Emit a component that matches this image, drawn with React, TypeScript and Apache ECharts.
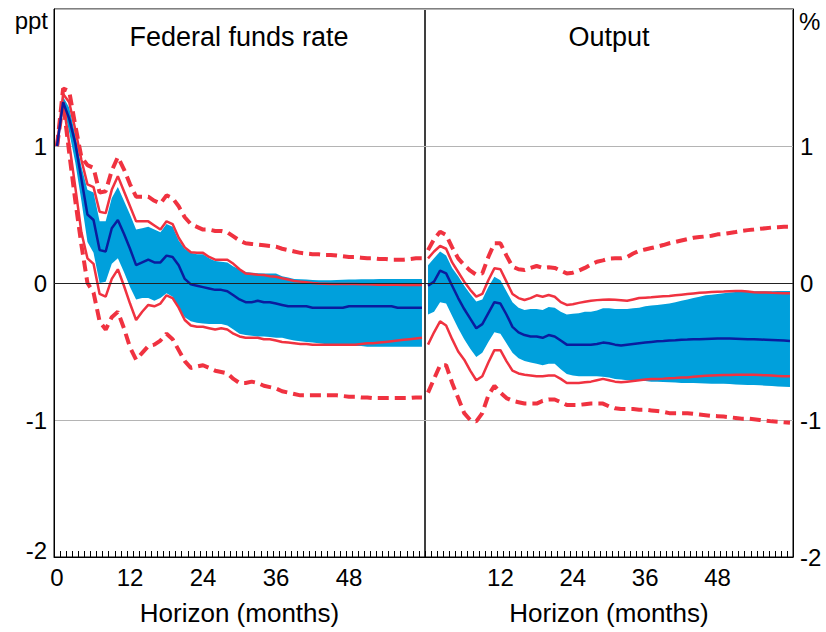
import React, { useEffect, useRef } from "react";
import * as echarts from "echarts";

const horizon = Array.from({ length: 61 }, (_, i) => String(i));

const ffrMedian = [1.00,1.32,1.20,1.02,0.76,0.50,0.46,0.24,0.23,0.40, 0.46,0.36,0.25,0.13,0.15,0.17,0.15,0.15,0.20,0.19, 0.13,0.03,-0.01,-0.02,-0.03,-0.04,-0.05,-0.05,-0.06,-0.09, -0.12,-0.14,-0.14,-0.13,-0.14,-0.14,-0.15,-0.16,-0.17,-0.17, -0.17,-0.17,-0.18,-0.18,-0.18,-0.18,-0.18,-0.18,-0.17,-0.17, -0.17,-0.17,-0.17,-0.17,-0.17,-0.17,-0.18,-0.18,-0.18,-0.18, -0.18];
const ffrBandUpper = [1.00,1.36,1.28,1.08,0.85,0.68,0.66,0.45,0.45,0.62, 0.70,0.60,0.50,0.39,0.40,0.41,0.39,0.37,0.43,0.41, 0.31,0.25,0.22,0.21,0.21,0.18,0.16,0.155,0.15,0.12, 0.10,0.08,0.075,0.072,0.07,0.07,0.07,0.05,0.04,0.03, 0.027,0.025,0.022,0.02,0.02,0.02,0.022,0.024,0.025,0.026, 0.027,0.028,0.028,0.029,0.03,0.03,0.03,0.03,0.03,0.03, 0.03];
const ffrBandLower = [1.00,1.30,1.10,0.88,0.60,0.30,0.22,0.00,0.01,0.14, 0.18,0.08,-0.03,-0.12,-0.11,-0.11,-0.13,-0.11,-0.075,-0.10, -0.18,-0.25,-0.28,-0.29,-0.295,-0.30,-0.30,-0.30,-0.31,-0.34, -0.37,-0.38,-0.385,-0.39,-0.39,-0.395,-0.40,-0.40,-0.41,-0.42, -0.425,-0.43,-0.435,-0.44,-0.445,-0.45,-0.45,-0.455,-0.455,-0.46, -0.46,-0.465,-0.465,-0.465,-0.465,-0.465,-0.465,-0.465,-0.465,-0.465, -0.465];
const ffrRedUpper = [1.00,1.38,1.32,1.12,0.90,0.72,0.70,0.52,0.51,0.68, 0.78,0.67,0.56,0.45,0.45,0.45,0.42,0.39,0.45,0.43, 0.33,0.26,0.225,0.22,0.22,0.19,0.17,0.17,0.17,0.14, 0.10,0.07,0.065,0.06,0.058,0.05,0.046,0.035,0.025,0.015, 0.01,0.005,0.0,-0.003,-0.005,-0.007,-0.007,-0.008,-0.008,-0.008, -0.01,-0.01,-0.011,-0.012,-0.012,-0.013,-0.013,-0.014,-0.014,-0.015, -0.015];
const ffrRedLower = [1.00,1.32,1.02,0.70,0.37,0.18,0.14,-0.08,-0.10,0.03, 0.10,-0.02,-0.15,-0.27,-0.21,-0.16,-0.17,-0.15,-0.09,-0.11, -0.18,-0.27,-0.31,-0.32,-0.32,-0.33,-0.34,-0.33,-0.34,-0.37, -0.39,-0.40,-0.40,-0.40,-0.41,-0.41,-0.42,-0.43,-0.435,-0.44, -0.445,-0.445,-0.45,-0.45,-0.45,-0.45,-0.45,-0.45,-0.45,-0.45, -0.445,-0.44,-0.44,-0.435,-0.43,-0.425,-0.42,-0.415,-0.41,-0.405, -0.40];
const ffrDashUpper = [1.00,1.42,1.40,1.15,0.92,0.86,0.84,0.66,0.67,0.82, 0.92,0.83,0.72,0.63,0.63,0.63,0.60,0.58,0.64,0.62, 0.56,0.48,0.43,0.41,0.39,0.39,0.38,0.38,0.37,0.34, 0.31,0.29,0.285,0.28,0.275,0.27,0.265,0.25,0.24,0.23, 0.22,0.215,0.21,0.21,0.205,0.205,0.20,0.195,0.19,0.19, 0.185,0.18,0.18,0.175,0.175,0.17,0.17,0.17,0.175,0.18, 0.18];
const ffrDashLower = [1.00,1.32,0.95,0.60,0.28,0.00,-0.07,-0.28,-0.34,-0.25, -0.21,-0.33,-0.47,-0.56,-0.51,-0.46,-0.45,-0.42,-0.37,-0.41, -0.49,-0.57,-0.62,-0.61,-0.60,-0.62,-0.64,-0.65,-0.66,-0.70, -0.73,-0.73,-0.72,-0.73,-0.75,-0.76,-0.77,-0.79,-0.80,-0.81, -0.82,-0.82,-0.82,-0.82,-0.82,-0.82,-0.82,-0.825,-0.83,-0.83, -0.835,-0.835,-0.84,-0.84,-0.84,-0.84,-0.84,-0.84,-0.84,-0.835, -0.835];

const outMedian = [-0.02,0.01,0.09,0.07,-0.02,-0.11,-0.19,-0.26,-0.33,-0.30, -0.22,-0.14,-0.15,-0.23,-0.32,-0.36,-0.38,-0.39,-0.39,-0.40, -0.38,-0.39,-0.42,-0.45,-0.45,-0.45,-0.45,-0.45,-0.445,-0.435, -0.44,-0.45,-0.457,-0.45,-0.445,-0.44,-0.435,-0.43,-0.425,-0.423, -0.42,-0.418,-0.415,-0.413,-0.41,-0.41,-0.408,-0.407,-0.406,-0.406, -0.406,-0.407,-0.408,-0.41,-0.41,-0.412,-0.414,-0.416,-0.418,-0.42, -0.423];
const outBandUpper = [0.13,0.18,0.23,0.20,0.11,0.05,-0.02,-0.08,-0.135,-0.12, -0.03,0.045,0.02,-0.06,-0.14,-0.18,-0.197,-0.19,-0.19,-0.197, -0.175,-0.18,-0.21,-0.23,-0.225,-0.22,-0.21,-0.21,-0.20,-0.185, -0.185,-0.19,-0.19,-0.19,-0.185,-0.18,-0.17,-0.165,-0.16,-0.155, -0.15,-0.14,-0.13,-0.12,-0.11,-0.10,-0.09,-0.085,-0.08,-0.075, -0.07,-0.065,-0.063,-0.062,-0.06,-0.06,-0.06,-0.06,-0.058,-0.058, -0.058];
const outBandLower = [-0.23,-0.21,-0.14,-0.15,-0.24,-0.33,-0.41,-0.48,-0.54,-0.51, -0.43,-0.36,-0.37,-0.44,-0.51,-0.55,-0.57,-0.58,-0.59,-0.60, -0.59,-0.59,-0.63,-0.665,-0.675,-0.68,-0.68,-0.68,-0.68,-0.685, -0.69,-0.70,-0.705,-0.71,-0.71,-0.715,-0.715,-0.72,-0.72,-0.722, -0.725,-0.727,-0.73,-0.73,-0.73,-0.732,-0.733,-0.735,-0.735,-0.735, -0.738,-0.74,-0.742,-0.744,-0.745,-0.747,-0.75,-0.752,-0.755,-0.758, -0.76];
const outRedUpper = [0.18,0.23,0.27,0.25,0.15,0.08,0.01,-0.05,-0.10,-0.08, 0.02,0.107,0.10,0.01,-0.08,-0.11,-0.124,-0.11,-0.09,-0.10, -0.088,-0.10,-0.14,-0.16,-0.155,-0.145,-0.137,-0.13,-0.125,-0.122, -0.12,-0.123,-0.126,-0.13,-0.12,-0.11,-0.107,-0.104,-0.10,-0.097, -0.095,-0.09,-0.085,-0.08,-0.076,-0.072,-0.069,-0.066,-0.063,-0.062, -0.06,-0.059,-0.058,-0.062,-0.068,-0.07,-0.07,-0.072,-0.073,-0.075, -0.075];
const outRedLower = [-0.45,-0.36,-0.28,-0.31,-0.41,-0.50,-0.56,-0.64,-0.71,-0.68, -0.58,-0.49,-0.49,-0.57,-0.64,-0.66,-0.67,-0.675,-0.68,-0.68, -0.675,-0.675,-0.70,-0.73,-0.73,-0.73,-0.725,-0.72,-0.71,-0.70, -0.71,-0.72,-0.725,-0.72,-0.715,-0.71,-0.705,-0.70,-0.70,-0.698, -0.695,-0.693,-0.69,-0.69,-0.685,-0.68,-0.677,-0.675,-0.673,-0.672, -0.671,-0.67,-0.67,-0.67,-0.67,-0.672,-0.674,-0.676,-0.678,-0.68, -0.68];
const outDashUpper = [0.24,0.32,0.375,0.35,0.26,0.18,0.13,0.09,0.06,0.07, 0.19,0.29,0.29,0.20,0.12,0.10,0.095,0.11,0.124,0.11, 0.115,0.11,0.09,0.07,0.075,0.09,0.11,0.135,0.155,0.165, 0.178,0.18,0.18,0.19,0.215,0.235,0.245,0.255,0.265,0.277, 0.29,0.30,0.31,0.32,0.33,0.335,0.34,0.345,0.355,0.358, 0.365,0.372,0.38,0.386,0.39,0.395,0.40,0.405,0.407,0.41, 0.41];
const outDashLower = [-0.80,-0.70,-0.60,-0.60,-0.73,-0.84,-0.95,-1.00,-1.01,-0.95, -0.82,-0.75,-0.80,-0.84,-0.86,-0.87,-0.88,-0.88,-0.88,-0.86, -0.85,-0.85,-0.87,-0.89,-0.89,-0.89,-0.885,-0.88,-0.88,-0.88, -0.90,-0.915,-0.92,-0.92,-0.92,-0.925,-0.925,-0.93,-0.935,-0.94, -0.95,-0.95,-0.95,-0.95,-0.955,-0.96,-0.965,-0.97,-0.972,-0.975, -0.98,-0.985,-0.99,-0.99,-0.995,-1.0,-1.005,-1.01,-1.013,-1.017, -1.02];

const yTicks = [-2, -1, 0, 1];
const xLabelMonths = ["0", "12", "24", "36", "48"];
const panelTitles = ["Federal funds rate", "Output"];
const xTitle = "Horizon (months)";

const FONT = "'Liberation Sans', Arial, sans-serif";
const BLUE = "#00a0dc";
const NAVY = "#0a1c9e";
const RED = "#f03240";

function panelSeries(
  idx: number,
  median: number[],
  bUp: number[],
  bLo: number[],
  rUp: number[],
  rLo: number[],
  dUp: number[],
  dLo: number[]
) {
  const stack = "band" + idx;
  const common = { xAxisIndex: idx, yAxisIndex: idx, type: "line", symbol: "none", silent: true };
  return [
    {
      ...common,
      stack,
      stackStrategy: "all",
      data: bLo,
      lineStyle: { opacity: 0, width: 0 },
      markLine: {
        silent: true,
        symbol: "none",
        label: { show: false },
        lineStyle: { color: "#222", width: 1, type: "solid" },
        data: [{ yAxis: 0 }],
      },
    },
    {
      ...common,
      stack,
      stackStrategy: "all",
      data: bUp.map((v, i) => +(v - bLo[i]).toFixed(4)),
      lineStyle: { opacity: 0, width: 0 },
      areaStyle: { color: BLUE, opacity: 1 },
    },
    { ...common, data: dUp, lineStyle: { color: RED, width: 4, type: [11, 6] } },
    { ...common, data: dLo, lineStyle: { color: RED, width: 4, type: [11, 6] } },
    { ...common, data: rUp, lineStyle: { color: RED, width: 2.5 } },
    { ...common, data: rLo, lineStyle: { color: RED, width: 2.5 } },
    { ...common, data: median, lineStyle: { color: NAVY, width: 2.5 } },
  ];
}

function xAxisFor(idx: number) {
  return {
    type: "category",
    gridIndex: idx,
    data: horizon,
    boundaryGap: true,
    axisLine: { show: true, onZero: false, lineStyle: { color: "#000", width: 1 } },
    axisTick: { show: true, inside: true, length: 6, interval: 0, lineStyle: { color: "#000" } },
    axisLabel: {
      interval: (i: number, v: string) => xLabelMonths.includes(v) && (idx === 0 || v !== "0"),
      color: "#000",
      fontSize: 24,
      fontFamily: FONT,
      margin: 8,
    },
    splitLine: { show: false },
    name: xTitle,
    nameLocation: "middle",
    nameGap: 43,
    nameTextStyle: { color: "#000", fontSize: 26, fontFamily: FONT },
  };
}

function yAxisFor(idx: number) {
  return {
    type: "value",
    gridIndex: idx,
    position: idx === 0 ? "left" : "right",
    min: -2,
    max: 2,
    interval: 1,
    axisLine: { show: true, onZero: false, lineStyle: { color: "#000" } },
    axisTick: { show: false },
    splitLine: { show: true, lineStyle: { color: "#b4b4b4", width: 1 } },
    axisLabel: {
      color: "#000",
      fontSize: 24,
      fontFamily: FONT,
      margin: 7,
      formatter: (v: number) => {
        if (!yTicks.includes(v)) return "";
        if (v === -2 && idx === 0) return "{up|-2}";
        return String(v);
      },
      rich: { up: { fontSize: 24, fontFamily: FONT, color: "#000", padding: [0, 0, 14, 0] } },
    },
  };
}

export default function App() {
  const ref = useRef<HTMLDivElement>(null);
  useEffect(() => {
    if (!ref.current) return;
    const chart = echarts.init(ref.current, undefined, { renderer: "svg" });
    chart.setOption({
      animation: false,
      backgroundColor: "#fff",
      grid: [
        { left: 54, right: 401, top: 9, bottom: 75, show: true, borderColor: "#000", borderWidth: 1, backgroundColor: "transparent" },
        { left: 425, right: 33, top: 9, bottom: 75, show: true, borderColor: "#000", borderWidth: 1, backgroundColor: "transparent" },
      ],
      xAxis: [xAxisFor(0), xAxisFor(1)],
      yAxis: [yAxisFor(0), yAxisFor(1)],
      series: [
        ...panelSeries(0, ffrMedian, ffrBandUpper, ffrBandLower, ffrRedUpper, ffrRedLower, ffrDashUpper, ffrDashLower),
        ...panelSeries(1, outMedian, outBandUpper, outBandLower, outRedUpper, outRedLower, outDashUpper, outDashLower),
      ],
      graphic: [
        { type: "text", x: 239, y: 37, style: { text: panelTitles[0], fill: "#000", font: `27px ${FONT}`, textAlign: "center", textVerticalAlign: "middle" } },
        { type: "text", x: 609, y: 37, style: { text: panelTitles[1], fill: "#000", font: `27px ${FONT}`, textAlign: "center", textVerticalAlign: "middle" } },
        { type: "text", x: 48, y: 20, style: { text: "ppt", fill: "#000", font: `24px ${FONT}`, textAlign: "right", textVerticalAlign: "middle" } },
        { type: "text", x: 799, y: 21, style: { text: "%", fill: "#000", font: `24px ${FONT}`, textAlign: "left", textVerticalAlign: "middle" } },
      ],
    });
    return () => chart.dispose();
  }, []);
  return <div ref={ref} style={{ position: "fixed", left: 0, top: 0, width: 826, height: 632 }} />;
}
